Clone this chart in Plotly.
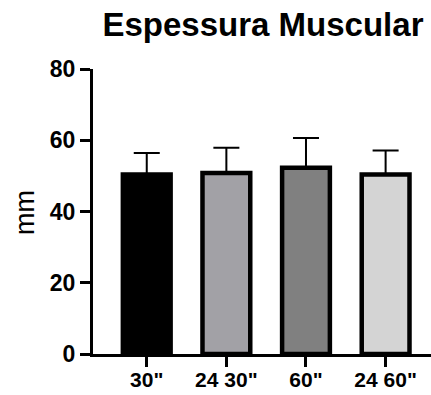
import plotly.graph_objects as go

categories = ['30"', '24 30"', '60"', '24 60"']
means = [50.4, 50.8, 52.3, 50.4]
errors = [6.0, 7.1, 8.3, 6.7]
colors = ["#000000", "#A2A1A6", "#808080", "#D4D4D4"]

x_idx = list(range(len(categories)))

fig = go.Figure()
fig.add_trace(go.Bar(
    x=x_idx, y=means, width=0.6,
    marker=dict(color=colors, line=dict(color="black", width=4.5)),
    error_y=dict(type="data", array=errors, symmetric=False, arrayminus=[0]*4,
                 color="black", thickness=2, width=13),
    showlegend=False,
))

font = "Liberation Sans, Arial, sans-serif"
fig.update_layout(
    width=431, height=395,
    margin=dict(l=93, r=0, t=69, b=41, autoexpand=False),
    paper_bgcolor="white", plot_bgcolor="white",
    title=dict(text="<b>Espessura Muscular</b>", font=dict(family=font, size=33, color="black"),
               x=263/431, xanchor="center", xref="container",
               y=1-24/395, yanchor="middle", yref="container"),
    xaxis=dict(range=[-0.675, 3.57], tickmode="array", tickvals=x_idx,
               ticktext=["<b>%s</b>" % c for c in categories],
               showline=True, linecolor="black", linewidth=3,
               ticks="outside", ticklen=10, tickwidth=3, tickcolor="black",
               tickfont=dict(family=font, size=21, color="black"),
               ticklabelstandoff=-5,
               showgrid=False, zeroline=False, automargin=False),
    yaxis=dict(range=[0, 80], tickvals=[0, 20, 40, 60, 80],
               ticktext=["<b>%d</b>" % v for v in [0, 20, 40, 60, 80]],
               showline=True, linecolor="black", linewidth=3,
               ticks="outside", ticklen=10, tickwidth=3, tickcolor="black",
               tickfont=dict(family=font, size=23, color="black"),
               showgrid=False, zeroline=False, automargin=False),
    annotations=[dict(text="mm", textangle=-90, x=(25-93)/338, y=0.495,
                      xref="paper", yref="paper", showarrow=False,
                      xanchor="center", yanchor="middle",
                      font=dict(family=font, size=27, color="black"))],
)

fig.write_html("out.html")
